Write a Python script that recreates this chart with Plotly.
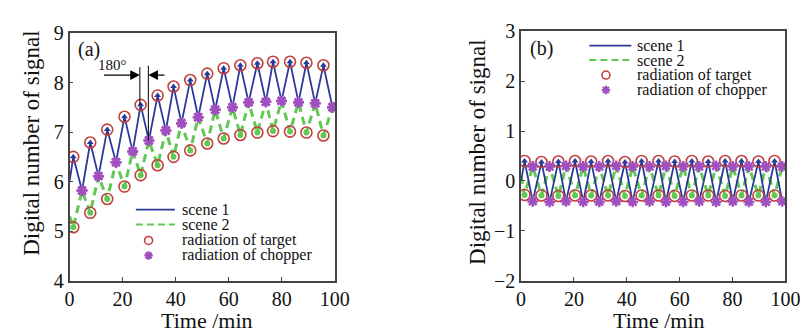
import plotly.graph_objects as go

# ---------------- data: panel (a) ----------------
a_peak_t = [1.4, 7.8, 14.2, 20.7, 26.8, 33.2, 39.2, 45.5, 51.9, 58.1, 64.4, 70.8, 76.7, 83.1, 89.3, 95.7]
a_trough_t = [4.7, 10.9, 17.5, 23.8, 29.9, 36.3, 42.2, 48.5, 54.9, 61.4, 67.5, 74.0, 79.9, 86.3, 92.6, 99.1]
a_target_high = [6.50, 6.79, 7.05, 7.31, 7.55, 7.74, 7.92, 8.05, 8.18, 8.29, 8.35, 8.39, 8.42, 8.42, 8.40, 8.35]
a_target_low = [5.08, 5.37, 5.65, 5.90, 6.13, 6.33, 6.50, 6.63, 6.77, 6.87, 6.94, 6.99, 7.02, 7.01, 6.99, 6.93]
a_chopper = [5.82, 6.11, 6.39, 6.61, 6.83, 7.03, 7.18, 7.30, 7.45, 7.50, 7.60, 7.61, 7.63, 7.60, 7.58, 7.50]
a_scene1_ends = [6.0, 7.6]   # value at t=0 and t=100
a_scene2_ends = [5.3, 7.45]

# ---------------- data: panel (b) ----------------
b_peak_t = [1.3, 7.7, 14.1, 20.4, 26.5, 32.9, 39.3, 45.6, 52.0, 58.1, 64.6, 70.8, 77.2, 83.4, 89.8, 95.9]
b_trough_t = [4.4, 10.8, 17.0, 23.5, 29.6, 36.0, 42.2, 48.6, 54.8, 61.3, 67.4, 73.8, 80.1, 86.2, 92.6, 98.8]
b_target_high = [0.40, 0.38, 0.39, 0.40, 0.39, 0.40, 0.38, 0.40, 0.40, 0.39, 0.40, 0.39, 0.40, 0.40, 0.39, 0.40]
b_target_low = [-0.28, -0.29, -0.30, -0.29, -0.29, -0.29, -0.30, -0.29, -0.29, -0.30, -0.29, -0.29, -0.30, -0.29, -0.29, -0.29]
b_chopper_high = [0.29, 0.29, 0.30, 0.29, 0.29, 0.30, 0.29, 0.29, 0.30, 0.29, 0.29, 0.30, 0.29, 0.29, 0.29, 0.29]
b_chopper_low = [-0.41, -0.42, -0.41, -0.42, -0.42, -0.41, -0.42, -0.41, -0.42, -0.42, -0.41, -0.42, -0.41, -0.42, -0.42, -0.41]
b_scene1_ends = [0.0, -0.38]
b_scene2_ends = [0.1, 0.28]

x_ticks = [0, 20, 40, 60, 80, 100]
a_y_ticks = [4, 5, 6, 7, 8, 9]
b_y_ticks = [-2, -1, 0, 1, 2, 3]

legend_labels = ["scene 1", "scene 2", "radiation of target", "radiation of chopper"]

# 180° phase annotation (data units of panel a)
phase_label = "180°"
phase_lines = [(26.5, 8.31, 7.55), (29.7, 8.34, 6.83)]
phase_arrow_y = 8.15
phase_arrow_tails = [12.4, 36.3]

# ---------------- styles / layout constants (pixels) ----------------
BLUE = "#2b3a98"
GREEN = "#62c755"
RED = "#c2413c"
PURPLE = "#a14fc0"
FONT = "Liberation Serif, DejaVu Serif, Noto Serif, Times New Roman, serif"
W, H = 808, 336
# manual legend layout: line start, line end, marker x, text x, row centre ys
LEG_A = dict(x0=126, x1=166, xm=139, xt=171, ys=[204, 220, 237, 253])
LEG_B = dict(x0=591, x1=634, xm=608, xt=638, ys=[28.5, 44, 60, 76])


def interleave(a, b):
    out = []
    for p, q in zip(a, b):
        out += [p, q]
    return out


fig = go.Figure()

TARGET_MARKER = dict(symbol="circle-open", size=11, color=RED, line=dict(width=1.6))
CHOPPER_MARKER = dict(symbol="asterisk-open", size=9, color=PURPLE, line=dict(width=2.5, color=PURPLE))


def add_panel(xa, ya, peak_t, trough_t, s1_high, s1_low, s2_high, s2_low, e1, e2):
    x = [0] + interleave(peak_t, trough_t) + [100]
    y1 = [e1[0]] + interleave(s1_high, s1_low) + [e1[1]]
    y2 = [e2[0]] + interleave(s2_low, s2_high) + [e2[1]]
    fig.add_trace(go.Scatter(x=x, y=y2, mode="lines", name=legend_labels[1],
                             line=dict(color=GREEN, width=3, dash="8px,5px"),
                             xaxis=xa, yaxis=ya, showlegend=False))
    fig.add_trace(go.Scatter(x=x, y=y1, mode="lines", name=legend_labels[0],
                             line=dict(color=BLUE, width=1.8),
                             xaxis=xa, yaxis=ya, showlegend=False))
    fig.add_trace(go.Scatter(x=peak_t, y=s1_high, mode="markers", showlegend=False,
                             marker=dict(symbol="triangle-up", size=6, color=BLUE),
                             xaxis=xa, yaxis=ya, hoverinfo="skip"))
    fig.add_trace(go.Scatter(x=peak_t, y=s2_low, mode="markers", showlegend=False,
                             marker=dict(symbol="circle", size=6, color=GREEN),
                             xaxis=xa, yaxis=ya, hoverinfo="skip"))
    fig.add_trace(go.Scatter(x=peak_t + peak_t, y=s1_high + s2_low, mode="markers",
                             name=legend_labels[2], marker=TARGET_MARKER,
                             xaxis=xa, yaxis=ya, showlegend=False))
    fig.add_trace(go.Scatter(x=trough_t + trough_t, y=s1_low + s2_high, mode="markers",
                             name=legend_labels[3], marker=CHOPPER_MARKER,
                             xaxis=xa, yaxis=ya, showlegend=False))


add_panel("x", "y", a_peak_t, a_trough_t, a_target_high, a_chopper,
          a_chopper, a_target_low, a_scene1_ends, a_scene2_ends)
add_panel("x2", "y2", b_peak_t, b_trough_t, b_target_high, b_chopper_low,
          b_chopper_high, b_target_low, b_scene1_ends, b_scene2_ends)

# legend symbol markers drawn on a pixel-space overlay axis
for leg in (LEG_A, LEG_B):
    fig.add_trace(go.Scatter(x=[leg["xm"]], y=[leg["ys"][2]], mode="markers",
                             marker=dict(symbol="circle-open", size=8, color=RED, line=dict(width=1.6)),
                             xaxis="x3", yaxis="y3", showlegend=False, hoverinfo="skip"))
    fig.add_trace(go.Scatter(x=[leg["xm"]], y=[leg["ys"][3]], mode="markers",
                             marker=dict(symbol="asterisk-open", size=7, color=PURPLE, line=dict(width=2.2, color=PURPLE)),
                             xaxis="x3", yaxis="y3", showlegend=False, hoverinfo="skip"))

axis_common = dict(showline=True, linecolor="#444", linewidth=1.5, mirror=True,
                   ticks="inside", ticklen=4, tickcolor="#444", showgrid=False, zeroline=False,
                   tickfont=dict(family=FONT, size=20, color="#111"))

fig.update_layout(
    width=W, height=H, margin=dict(l=0, r=0, t=0, b=0),
    paper_bgcolor="white", plot_bgcolor="rgba(0,0,0,0)",
    font=dict(family=FONT, color="#111"),
    showlegend=False,
    xaxis=dict(domain=[58 / W, 330 / W], range=[0, 100], tickvals=x_ticks, anchor="y", **axis_common),
    yaxis=dict(domain=[1 - 280 / H, 1 - 15 / H], range=[4, 9], tickvals=a_y_ticks, anchor="x", **axis_common),
    xaxis2=dict(domain=[521 / W, 792 / W], range=[0, 100], tickvals=x_ticks, anchor="y2", **axis_common),
    yaxis2=dict(domain=[1 - 280 / H, 1 - 13.3 / H], range=[-2, 3], tickvals=b_y_ticks, anchor="x2", **axis_common),
    xaxis3=dict(domain=[0, 1], range=[0, W], visible=False, anchor="y3", fixedrange=True),
    yaxis3=dict(domain=[0, 1], range=[H, 0], visible=False, anchor="x3", fixedrange=True),
)

annotations = []
for txt, x, y, ang, sz in [("Digital number of signal", 19, 133, -90, 23),
                           ("Digital number of signal", 477, 142, -90, 23),
                           ("Time /min", 199, 323, 0, 22),
                           ("Time /min", 662, 323, 0, 22)]:
    annotations.append(dict(text=txt, x=x / W, y=1 - y / H, xref="paper", yref="paper",
                            xanchor="center", yanchor="middle", textangle=ang, showarrow=False,
                            font=dict(family=FONT, size=sz)))
annotations.append(dict(text="(a)", x=0.026, y=0.935, xref="x domain", yref="y domain",
                        xanchor="left", yanchor="middle", showarrow=False, font=dict(family=FONT, size=20)))
annotations.append(dict(text="(b)", x=0.026, y=0.93, xref="x2 domain", yref="y2 domain",
                        xanchor="left", yanchor="middle", showarrow=False, font=dict(family=FONT, size=20)))
annotations.append(dict(text=phase_label, x=16, y=8.36, xref="x", yref="y", showarrow=False,
                        xanchor="center", yanchor="middle", font=dict(family=FONT, size=15)))
for tail, (lx, _, _) in zip(phase_arrow_tails, phase_lines):
    annotations.append(dict(x=lx, y=phase_arrow_y, ax=tail, ay=phase_arrow_y, xref="x", yref="y",
                            axref="x", ayref="y", text="", showarrow=True, arrowhead=2,
                            arrowsize=1.6, arrowwidth=1.2, arrowcolor="black"))
# manual legend texts
for leg in (LEG_A, LEG_B):
    for lab, y in zip(legend_labels, leg["ys"]):
        annotations.append(dict(text=lab, x=leg["xt"] / W, y=1 - y / H, xref="paper", yref="paper",
                                xanchor="left", yanchor="middle", showarrow=False,
                                font=dict(family=FONT, size=16, color="#111")))
fig.update_layout(annotations=annotations)

for lx, y0, y1 in phase_lines:
    fig.add_shape(type="line", x0=lx, x1=lx, y0=y0, y1=y1, xref="x", yref="y",
                  line=dict(color="black", width=1))
# manual legend lines
for leg in (LEG_A, LEG_B):
    fig.add_shape(type="line", x0=leg["x0"] / W, x1=leg["x1"] / W, y0=1 - leg["ys"][0] / H,
                  y1=1 - leg["ys"][0] / H, xref="paper", yref="paper", line=dict(color=BLUE, width=1.8))
    fig.add_shape(type="line", x0=leg["x0"] / W, x1=leg["x1"] / W, y0=1 - leg["ys"][1] / H,
                  y1=1 - leg["ys"][1] / H, xref="paper", yref="paper",
                  line=dict(color=GREEN, width=2, dash="7px,4px"))

fig.write_html("out.html")
